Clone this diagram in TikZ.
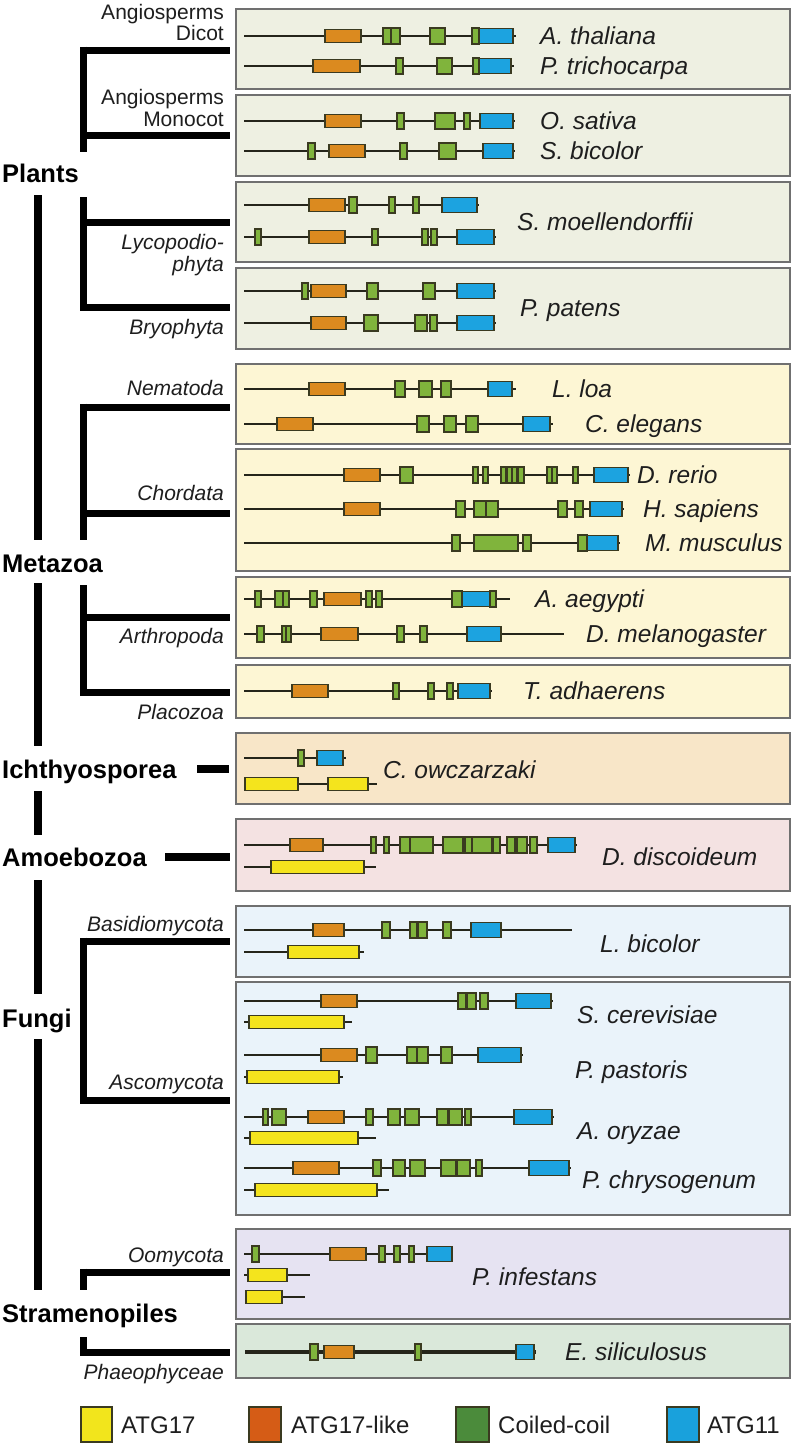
\documentclass[tikz,border=0pt]{standalone}
\usepackage{fontspec}
\setmainfont{Liberation Sans}
\definecolor{bbc}{HTML}{25251A}
\definecolor{domc}{HTML}{3A3A20}
\definecolor{cO}{HTML}{DB8A1F}
\definecolor{cG}{HTML}{80B43C}
\definecolor{cB}{HTML}{1CA3E0}
\definecolor{cY}{HTML}{F4E41D}
\definecolor{lY}{HTML}{F2E51C}
\definecolor{lO}{HTML}{D55C16}
\definecolor{lG}{HTML}{4B8B3B}
\definecolor{lB}{HTML}{19A1DC}
\definecolor{pPlant}{HTML}{EEF0E2}
\definecolor{pMeta}{HTML}{FDF6D4}
\definecolor{pIch}{HTML}{F8E6C8}
\definecolor{pAmo}{HTML}{F4E2E2}
\definecolor{pFun}{HTML}{EAF3FA}
\definecolor{pOom}{HTML}{E6E3F2}
\definecolor{pPha}{HTML}{DAE8DA}
\definecolor{panelc}{HTML}{707070}
\definecolor{txt}{HTML}{1E1E1E}
\newcommand\spf{\fontsize{24.5}{26}\selectfont\itshape}
\newcommand\clf{\fontsize{21}{22}\selectfont}
\newcommand\clif{\fontsize{21}{22}\selectfont\itshape}
\newcommand\grpf{\fontsize{25.5}{27}\selectfont\bfseries}
\newcommand\lgf{\fontsize{24}{26}\selectfont}
\tikzset{
 bbline/.style={line width=2.4pt, draw=bbc},
 dom/.style={line width=1.4pt, draw=domc},
 dO/.style={dom, fill=cO},
 dG/.style={dom, fill=cG},
 dB/.style={dom, fill=cB},
 dY/.style={dom, fill=cY},
 panel/.style={draw=panelc, line width=1.2pt},
 trunk/.style={line width=8pt, draw=black},
 branch/.style={line width=7pt, draw=black},
 sp/.style={anchor=base west, inner sep=0pt, font=\spf, text=txt},
 cl/.style={anchor=base east, inner sep=0pt, font=\clf, text=txt},
 cli/.style={anchor=base east, inner sep=0pt, font=\clif, text=txt},
 grp/.style={anchor=base west, inner sep=0pt, font=\grpf, text=black},
 lgtxt/.style={anchor=base west, inner sep=0pt, font=\lgf, text=txt},
 lgbox/.style={draw=domc, line width=1.2pt}
}
% y, x1, x2
\newcommand\bbone[3]{\draw[bbline] (#2,#1) -- (#3,#1);}
\newcommand\domO[3]{\draw[dO] (#2,#1-6.5) rectangle (#3,#1+6.5);}
\newcommand\domG[3]{\draw[dG] (#2,#1-8) rectangle (#3,#1+8);}
\newcommand\domB[3]{\draw[dB] (#2,#1-7.5) rectangle (#3,#1+7.5);}
\newcommand\domY[3]{\draw[dY] (#2,#1-6.5) rectangle (#3,#1+6.5);}
\begin{document}
\begin{tikzpicture}[x=1pt,y=-1pt]
\useasboundingbox (0,0) rectangle (793,1446);
\fill[white] (0,0) rectangle (793,1446);
% ---------- panels ----------
\draw[panel, fill=pPlant] (236,9) rectangle (790,89);
\draw[panel, fill=pPlant] (236,95) rectangle (790,176);
\draw[panel, fill=pPlant] (236,182) rectangle (790,262);
\draw[panel, fill=pPlant] (236,268) rectangle (790,349);
\draw[panel, fill=pMeta] (236,364) rectangle (790,444);
\draw[panel, fill=pMeta] (236,449) rectangle (790,571);
\draw[panel, fill=pMeta] (236,577) rectangle (790,658);
\draw[panel, fill=pMeta] (236,665) rectangle (790,718);
\draw[panel, fill=pIch] (236,733) rectangle (790,804);
\draw[panel, fill=pAmo] (236,819) rectangle (790,891);
\draw[panel, fill=pFun] (236,906) rectangle (790,977);
\draw[panel, fill=pFun] (236,982) rectangle (790,1215);
\draw[panel, fill=pOom] (236,1229) rectangle (790,1319);
\draw[panel, fill=pPha] (236,1324) rectangle (790,1378);
% ---------- tree ----------
\draw[trunk] (38,195) -- (38,540);
\draw[trunk] (38,583) -- (38,746);
\draw[trunk] (38,791) -- (38,835);
\draw[trunk] (38,880) -- (38,994);
\draw[trunk] (38,1039) -- (38,1290);
% Plants
\draw[branch] (83.5,46.5) -- (83.5,152);
\draw[branch] (80,50) -- (230,50);
\draw[branch] (80,135) -- (230,135);
\draw[branch] (83.5,197) -- (83.5,310.5);
\draw[branch] (80,222) -- (230,222);
\draw[branch] (80,307) -- (230,307);
% Metazoa
\draw[branch] (83.5,403.5) -- (83.5,540);
\draw[branch] (80,407) -- (230,407);
\draw[branch] (80,513) -- (230,513);
\draw[branch] (83.5,585) -- (83.5,695.5);
\draw[branch] (80,617) -- (230,617);
\draw[branch] (80,692) -- (230,692);
% single lineages
\draw[line width=8pt] (197,769) -- (229,769);
\draw[line width=8pt] (165,857) -- (230,857);
% Fungi
\draw[branch] (83.5,937.5) -- (83.5,1103.5);
\draw[branch] (80,941) -- (230,941);
\draw[branch] (80,1100) -- (230,1100);
% Stramenopiles
\draw[branch] (83.5,1268.5) -- (83.5,1290);
\draw[branch] (80,1272) -- (230,1272);
\draw[branch] (83.5,1337) -- (83.5,1355.5);
\draw[branch] (80,1352) -- (230,1352);
% ---------- group labels ----------
\node[grp] (gPlants) at (2,173+9.2) {Plants};
\node[grp] (gMeta) at (2,563+9.2) {Metazoa};
\node[grp] (gIch) at (2,769+9.2) {Ichthyosporea};
\node[grp] (gAmo) at (2,857+9.2) {Amoebozoa};
\node[grp] (gFun) at (2,1018+9.2) {Fungi};
\node[grp] (gStr) at (2,1313+9.2) {Stramenopiles};
% ---------- clade labels ----------
\node[cl] (cA1) at (224,12+7.5) {Angiosperms};
\node[cl] (cDi) at (224,33+7.5) {Dicot};
\node[cl] (cA2) at (224,97+7.5) {Angiosperms};
\node[cl] (cMo) at (224,119+7.5) {Monocot};
\node[cli] (cLy) at (224,242+7.5) {Lycopodio-};
\node[cli] (cPh) at (224,264+7.5) {phyta};
\node[cli] (cBr) at (224,327+7.5) {Bryophyta};
\node[cli] (cNe) at (224,388+7.5) {Nematoda};
\node[cli] (cCh) at (224,493+7.5) {Chordata};
\node[cli] (cAr) at (224,636+7.5) {Arthropoda};
\node[cli] (cPl) at (224,712+7.5) {Placozoa};
\node[cli] (cBa) at (224,924+7.5) {Basidiomycota};
\node[cli] (cAs) at (224,1082+7.5) {Ascomycota};
\node[cli] (cOo) at (224,1255+7.5) {Oomycota};
\node[cli] (cPa) at (224,1372+7.5) {Phaeophyceae};
% ---------- proteins ----------
% A. thaliana
\bbone{36}{244}{516}\domO{36}{325}{361}\domG{36}{383}{391}\domG{36}{391}{400}\domG{36}{430}{445}\domG{36}{472}{479}\domB{36}{479}{513}
\node[sp] (sAth) at (540,36+8.8) {A. thaliana};
% P. trichocarpa
\bbone{66}{244}{514}\domO{66}{313}{360}\domG{66}{396}{403}\domG{66}{437}{452}\domG{66}{473}{479}\domB{66}{479}{511}
\node[sp] (sPtr) at (540,66+8.8) {P. trichocarpa};
% O. sativa
\bbone{121}{244}{515}\domO{121}{325}{361}\domG{121}{397}{404}\domG{121}{435}{455}\domG{121}{464}{470}\domB{121}{480}{513}
\node[sp] (sOsa) at (540,121+8.8) {O. sativa};
% S. bicolor
\bbone{151}{244}{515}\domG{151}{308}{315}\domO{151}{329}{365}\domG{151}{400}{407}\domG{151}{439}{456}\domB{151}{483}{513}
\node[sp] (sSbi) at (540,151+8.8) {S. bicolor};
% S. moellendorffii
\bbone{205}{244}{479}\domO{205}{309}{345}\domG{205}{349}{357}\domG{205}{389}{395}\domG{205}{413}{419}\domB{205}{442}{477}
\bbone{237}{244}{496}\domG{237}{255}{261}\domO{237}{309}{345}\domG{237}{372}{378}\domG{237}{422}{428}\domG{237}{431}{437}\domB{237}{457}{494}
\node[sp] (sSmo) at (517,222+8.8) {S. moellendorffii};
% P. patens
\bbone{291}{244}{496}\domG{291}{302}{308}\domO{291}{311}{346}\domG{291}{367}{378}\domG{291}{423}{435}\domB{291}{457}{494}
\bbone{323}{244}{496}\domO{323}{311}{346}\domG{323}{364}{378}\domG{323}{415}{427}\domG{323}{430}{437}\domB{323}{457}{494}
\node[sp] (sPpa) at (520,308+8.8) {P. patens};
% L. loa
\bbone{389}{244}{516}\domO{389}{309}{345}\domG{389}{395}{405}\domG{389}{419}{432}\domG{389}{441}{451}\domB{389}{488}{512}
\node[sp] (sLlo) at (552,389+8.8) {L. loa};
% C. elegans
\bbone{424}{244}{553}\domO{424}{277}{313}\domG{424}{417}{429}\domG{424}{444}{456}\domG{424}{466}{478}\domB{424}{523}{550}
\node[sp] (sCel) at (585,424+8.8) {C. elegans};
% D. rerio
\bbone{475}{244}{630}\domO{475}{344}{380}\domG{475}{400}{413}\domG{475}{473}{478}\domG{475}{483}{488}\domG{475}{501}{506}\domG{475}{507}{512}\domG{475}{512}{517}\domG{475}{518}{524}\domG{475}{547}{552}\domG{475}{552}{557}\domG{475}{573}{578}\domB{475}{594}{628}
\node[sp] (sDre) at (637,475+8.8) {D. rerio};
% H. sapiens
\bbone{509}{244}{624}\domO{509}{344}{380}\domG{509}{456}{465}\domG{509}{474}{486}\domG{509}{486}{498}\domG{509}{558}{567}\domG{509}{575}{583}\domB{509}{590}{622}
\node[sp] (sHsa) at (643,509+8.8) {H. sapiens};
% M. musculus
\bbone{543}{244}{620}\domG{543}{452}{460}\domG{543}{474}{518}\domG{543}{523}{531}\domG{543}{578}{587}\domB{543}{587}{618}
\node[sp] (sMmu) at (645,543+8.8) {M. musculus};
% A. aegypti
\bbone{599}{244}{510}\domG{599}{255}{261}\domG{599}{275}{283}\domG{599}{283}{289}\domG{599}{310}{317}\domO{599}{324}{361}\domG{599}{366}{372}\domG{599}{376}{382}\domG{599}{452}{462}\domB{599}{462}{490}\domG{599}{490}{496}
\node[sp] (sAae) at (535,599+8.8) {A. aegypti};
% D. melanogaster
\bbone{634}{244}{564}\domG{634}{257}{264}\domG{634}{282}{286}\domG{634}{286}{291}\domO{634}{321}{358}\domG{634}{397}{404}\domG{634}{420}{427}\domB{634}{467}{501}
\node[sp] (sDme) at (586,634+8.8) {D. melanogaster};
% T. adhaerens
\bbone{691}{244}{492}\domO{691}{292}{328}\domG{691}{393}{399}\domG{691}{428}{434}\domG{691}{447}{453}\domB{691}{458}{490}
\node[sp] (sTad) at (523,691+8.8) {T. adhaerens};
% C. owczarzaki
\bbone{758}{244}{346}\domG{758}{298}{304}\domB{758}{317}{343}
\bbone{784}{244}{377}\domY{784}{245}{298}\domY{784}{328}{368}
\node[sp] (sCow) at (383,770+8.8) {C. owczarzaki};
% D. discoideum
\bbone{845}{244}{577}\domO{845}{290}{323}\domG{845}{371}{376}\domG{845}{384}{389}\domG{845}{400}{410}\domG{845}{410}{433}\domG{845}{443}{463}\domG{845}{465}{472}\domG{845}{472}{492}\domG{845}{493}{500}\domG{845}{507}{515}\domG{845}{517}{527}\domG{845}{530}{537}\domB{845}{548}{575}
\bbone{867}{244}{376}\domY{867}{271}{364}
\node[sp] (sDdi) at (602,857+8.8) {D. discoideum};
% L. bicolor
\bbone{930}{244}{572}\domO{930}{313}{344}\domG{930}{382}{390}\domG{930}{410}{417}\domG{930}{418}{427}\domG{930}{443}{451}\domB{930}{471}{501}
\bbone{952}{244}{364}\domY{952}{288}{359}
\node[sp] (sLbi) at (600,944+8.8) {L. bicolor};
% S. cerevisiae
\bbone{1001}{244}{553}\domO{1001}{321}{357}\domG{1001}{458}{466}\domG{1001}{467}{476}\domG{1001}{480}{488}\domB{1001}{516}{551}
\bbone{1022}{244}{352}\domY{1022}{249}{344}
\node[sp] (sSce) at (577,1015+8.8) {S. cerevisiae};
% P. pastoris
\bbone{1055}{244}{523}\domO{1055}{321}{357}\domG{1055}{366}{377}\domG{1055}{407}{417}\domG{1055}{417}{428}\domG{1055}{441}{452}\domB{1055}{478}{521}
\bbone{1077}{244}{343}\domY{1077}{247}{339}
\node[sp] (sPpas) at (575,1070+8.8) {P. pastoris};
% A. oryzae
\bbone{1117}{244}{554}\domG{1117}{263}{268}\domG{1117}{272}{286}\domO{1117}{308}{344}\domG{1117}{366}{373}\domG{1117}{388}{400}\domG{1117}{405}{419}\domG{1117}{437}{448}\domG{1117}{449}{462}\domG{1117}{465}{471}\domB{1117}{514}{552}
\bbone{1138}{244}{376}\domY{1138}{250}{358}
\node[sp] (sAor) at (577,1131+8.8) {A. oryzae};
% P. chrysogenum
\bbone{1168}{244}{571}\domO{1168}{293}{339}\domG{1168}{373}{381}\domG{1168}{393}{405}\domG{1168}{410}{425}\domG{1168}{441}{456}\domG{1168}{457}{470}\domG{1168}{476}{482}\domB{1168}{529}{569}
\bbone{1190}{244}{389}\domY{1190}{255}{377}
\node[sp] (sPch) at (582,1180+8.8) {P. chrysogenum};
% P. infestans
\bbone{1254}{244}{453}\domG{1254}{252}{259}\domO{1254}{330}{366}\domG{1254}{379}{385}\domG{1254}{394}{400}\domG{1254}{409}{414}\domB{1254}{427}{452}
\bbone{1275}{244}{310}\domY{1275}{248}{287}
\bbone{1297}{246}{305}\domY{1297}{246}{282}
\node[sp] (sPin) at (472,1277+8.8) {P. infestans};
% E. siliculosus
\draw[bbline, line width=4pt] (245,1352) -- (536,1352);
\domG{1352}{310}{318}\domO{1352}{324}{354}\domG{1352}{415}{421}\domB{1352}{516}{534}
\node[sp] (sEsi) at (565,1352+8.8) {E. siliculosus};
% ---------- legend ----------
\draw[lgbox, fill=lY] (81,1407) rectangle (112,1442);
\node[lgtxt] (lg1) at (121,1425+8.6) {ATG17};
\draw[lgbox, fill=lO] (249,1407) rectangle (281,1442);
\node[lgtxt] (lg2) at (291,1425+8.6) {ATG17-like};
\draw[lgbox, fill=lG] (456,1407) rectangle (489,1442);
\node[lgtxt] (lg3) at (498,1425+8.6) {Coiled-coil};
\draw[lgbox, fill=lB] (667,1407) rectangle (699,1442);
\node[lgtxt] (lg4) at (707,1425+8.6) {ATG11};
\end{tikzpicture}
\end{document}
